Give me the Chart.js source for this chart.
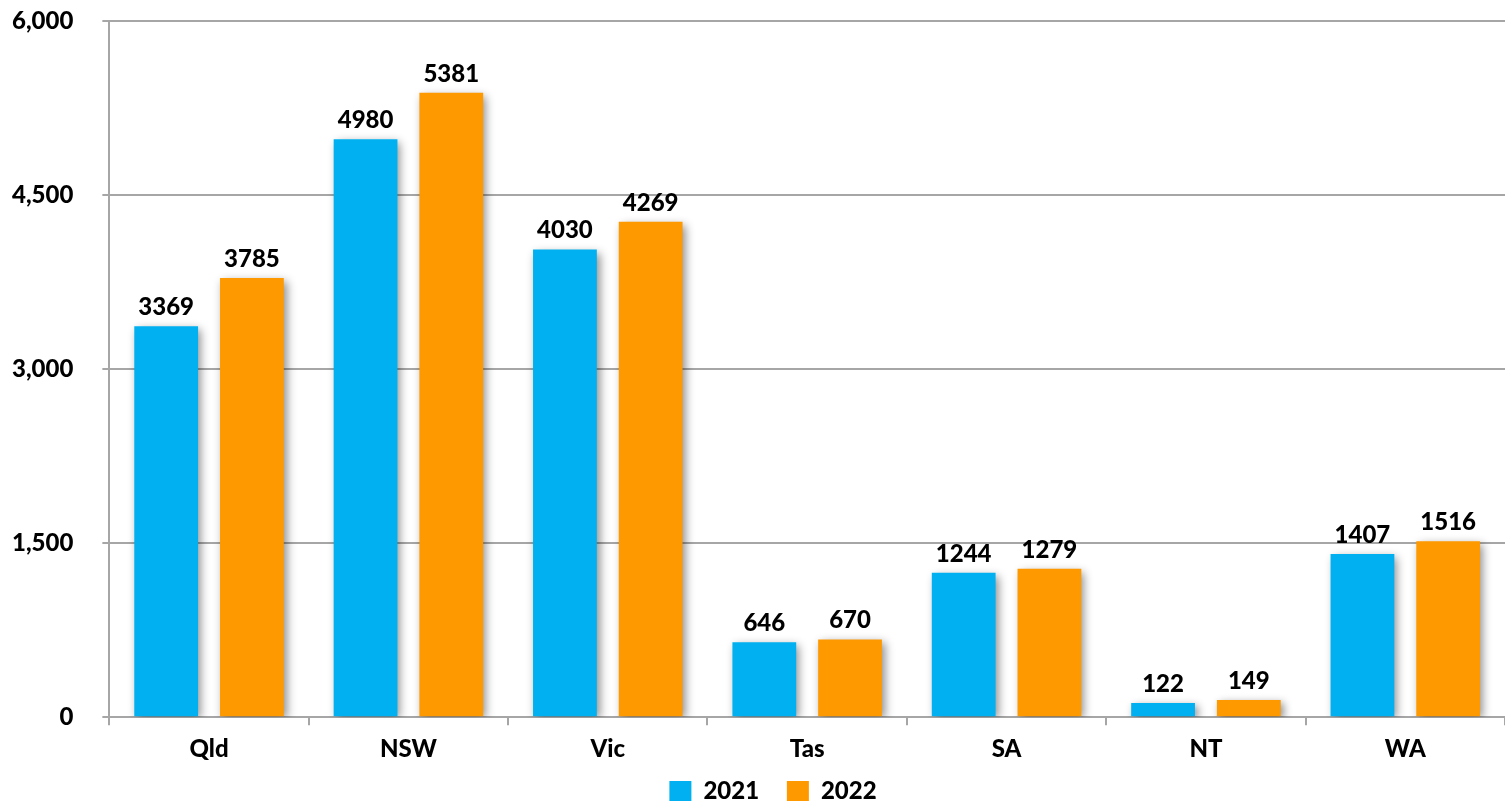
<!DOCTYPE html>
<html>
<head>
<meta charset="utf-8">
<script src="https://cdn.jsdelivr.net/npm/chart.js@4"></script>
<style>
  html, body { margin: 0; padding: 0; background: #fff; }
  #wrap { width: 1505px; height: 804px; }
</style>
</head>
<body>
<div id="wrap"><canvas id="stateChart"></canvas></div>
<script>
const states = ['Qld', 'NSW', 'Vic', 'Tas', 'SA', 'NT', 'WA'];
const values2021 = [3369, 4980, 4030, 646, 1244, 122, 1407];
const values2022 = [3785, 5381, 4269, 670, 1279, 149, 1516];
const seriesNames = ['2021', '2022'];

const FONT = 'Lato';
const gridGrey = '#A6A6A6';

// soft drop shadow behind the bars, like the spreadsheet original
const barShadow = {
    id: 'barShadow',
    beforeDatasetsDraw(chart) {
        const c = chart.ctx;
        c.save();
        c.shadowColor = 'rgba(0,0,0,0.45)';
        c.shadowBlur = 9;
        c.shadowOffsetX = 3;
        c.shadowOffsetY = 3;
    },
    afterDatasetsDraw(chart) {
        chart.ctx.restore();
    }
};

// value labels above each bar
const valueLabels = {
    id: 'valueLabels',
    afterDraw(chart) {
        const c = chart.ctx;
        c.save();
        c.font = '900 24px ' + FONT;
        c.fillStyle = '#000';
        c.textAlign = 'center';
        c.textBaseline = 'bottom';
        chart.data.datasets.forEach((ds, i) => {
            chart.getDatasetMeta(i).data.forEach((bar, j) => {
                c.fillText(ds.data[j], bar.x, bar.y - 7);
            });
        });
        c.restore();
    }
};

new Chart(document.getElementById('stateChart'), {
    type: 'bar',
    data: {
        labels: states,
        datasets: [
            { label: seriesNames[0], data: values2021, backgroundColor: '#00B0F0' },
            { label: seriesNames[1], data: values2022, backgroundColor: '#FF9900' }
        ]
    },
    options: {
        responsive: true,
        maintainAspectRatio: false,
        animation: false,
        categoryPercentage: 0.86,
        barPercentage: 0.744,
        layout: { padding: { top: 0, right: 0, left: -17, bottom: -9 } },
        scales: {
            x: {
                ticks: { color: '#000', font: { family: FONT, size: 24, weight: '900' }, padding: 10 },
                grid: { drawOnChartArea: false, drawTicks: true, tickLength: 8, color: gridGrey, lineWidth: 2 },
                border: { color: gridGrey, width: 2 }
            },
            y: {
                min: 0,
                max: 6000,
                afterFit: s => { s.paddingTop = 21; },
                ticks: {
                    stepSize: 1500,
                    color: '#000',
                    padding: 29,
                    font: { family: FONT, size: 24, weight: '900' },
                    callback: v => v.toLocaleString('en-US')
                },
                grid: { color: gridGrey, lineWidth: 2, tickLength: 7 },
                border: { color: gridGrey, width: 2 }
            }
        },
        plugins: {
            legend: {
                position: 'bottom',
                fullSize: false,
                labels: {
                    color: '#000',
                    boxWidth: 22,
                    boxHeight: 20,
                    padding: 5,
                    font: { family: FONT, size: 24, weight: '900' },
                    // trailing spaces only widen the gaps between entries
                    generateLabels(chart) {
                        const items = Chart.defaults.plugins.legend.labels.generateLabels(chart);
                        items[0].text += '    ';
                        items[1].text += '            ';
                        return items;
                    }
                }
            },
            tooltip: { enabled: false }
        }
    },
    plugins: [barShadow, valueLabels]
});
</script>
</body>
</html>
